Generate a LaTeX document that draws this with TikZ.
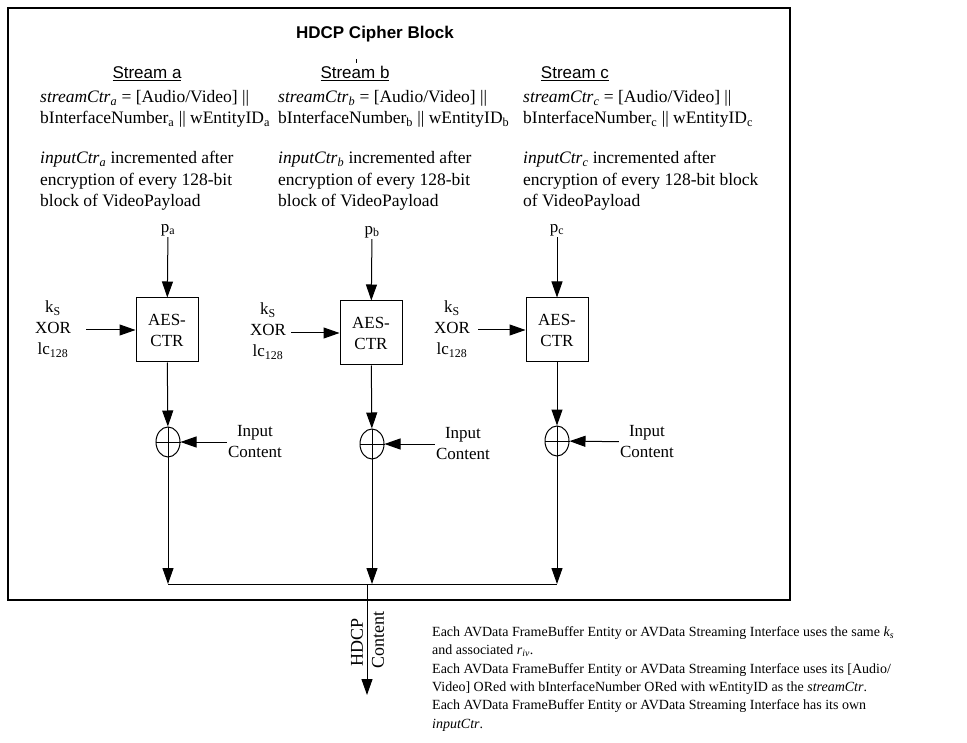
\documentclass[tikz,border=0pt]{standalone}
\usepackage{fontspec}
\setmainfont{Liberation Serif}
\newfontfamily\arialfont{Liberation Sans}
\usetikzlibrary{arrows.meta, calc, positioning, shapes.geometric}

\tikzset{
  body/.style={font=\fontsize{17.5}{21.5}\selectfont, align=left, inner sep=0pt},
  hdr/.style={font=\arialfont\fontsize{17}{19}\selectfont, inner sep=0pt},
  aes/.style={draw, line width=1pt, minimum width=62pt, minimum height=64pt, align=center, font=\fontsize{17}{21}\selectfont},
  xorop/.style={draw, ellipse, line width=1pt, minimum width=24pt, minimum height=30pt, inner sep=0pt},
  lbl/.style={font=\fontsize{17}{21}\selectfont, align=center, inner sep=1pt},
  wire/.style={line width=1pt, -{Triangle[length=16pt,width=11pt]}},
  notes/.style={font=\fontsize{14}{18.3}\selectfont, align=left, inner sep=0pt}
}

\begin{document}
\begin{tikzpicture}[x=1pt, y=-1pt]
  \useasboundingbox (0,0) rectangle (967,743);
  \draw[line width=1.2pt] (8,8) rectangle (790,600);

  \node[font=\arialfont\bfseries\fontsize{17}{19}\selectfont, anchor=base] (title) at (375,39) {HDCP Cipher Block};
  \draw (356,59) -- (356,63);

  \node[hdr, anchor=base] (streamA) at (147,79) {\underline{Stream a}};
  \node[hdr, anchor=base] (streamB) at (355,79) {\underline{Stream b}};
  \node[hdr, anchor=base] (streamC) at (575,79) {\underline{Stream c}};

  \node[body, anchor=base west] (ctrA) at (40,124) {\textit{streamCtr\textsubscript{a}} = [Audio/Video] ||\\bInterfaceNumber\textsubscript{a} || wEntityID\textsubscript{a}};
  \node[body, anchor=base west] (ctrB) at (278,124) {\textit{streamCtr\textsubscript{b}} = [Audio/Video] ||\\bInterfaceNumber\textsubscript{b} || wEntityID\textsubscript{b}};
  \node[body, anchor=base west] (ctrC) at (523,124) {\textit{streamCtr\textsubscript{c}} = [Audio/Video] ||\\bInterfaceNumber\textsubscript{c} || wEntityID\textsubscript{c}};

  \node[body, anchor=base west] (incA) at (40,207) {\textit{inputCtr\textsubscript{a}} incremented after\\encryption of every 128-bit\\block of VideoPayload};
  \node[body, anchor=base west] (incB) at (278,207) {\textit{inputCtr\textsubscript{b}} incremented after\\encryption of every 128-bit\\block of VideoPayload};
  \node[body, anchor=base west] (incC) at (523,207) {\textit{inputCtr\textsubscript{c}} incremented after\\encryption of every 128-bit block\\of VideoPayload};

  \node[aes] (aesA) at (167,330) {AES-\\CTR};
  \node[aes] (aesB) at (371,333) {AES-\\CTR};
  \node[aes] (aesC) at (557,330) {AES-\\CTR};

  \node[lbl] (pA) at (168,230) {p\textsubscript{a}};
  \node[lbl] (pB) at (372,232) {p\textsubscript{b}};
  \node[lbl] (pC) at (557,230) {p\textsubscript{c}};

  \node[lbl] (ksA) at (53,329) {k\textsubscript{S}\\XOR\\lc\textsubscript{128}};
  \node[lbl] (ksB) at (268,331) {k\textsubscript{S}\\XOR\\lc\textsubscript{128}};
  \node[lbl] (ksC) at (452,329) {k\textsubscript{S}\\XOR\\lc\textsubscript{128}};

  \node[xorop] (xorA) at (168,442) {};
  \node[xorop] (xorB) at (372,444) {};
  \node[xorop] (xorC) at (557,441) {};
  \draw (xorA.north) -- (xorA.south) (xorA.west) -- (xorA.east);
  \draw (xorB.north) -- (xorB.south) (xorB.west) -- (xorB.east);
  \draw (xorC.north) -- (xorC.south) (xorC.west) -- (xorC.east);

  \node[lbl] (inA) at (255,442) {Input\\Content};
  \node[lbl] (inB) at (463,444) {Input\\Content};
  \node[lbl] (inC) at (647,442) {Input\\Content};

  \coordinate (bus) at (367,584);
  \coordinate (out) at (367,695);

  \draw[wire] (pA) -- (aesA);
  \draw[wire] (pB) -- (aesB);
  \draw[wire] (pC) -- (aesC);
  \draw[wire, shorten <=14pt] (ksA.east |- aesA.west) -- (aesA);
  \draw[wire, shorten <=4pt] (ksB.east |- aesB.west) -- (aesB);
  \draw[wire, shorten <=7pt] (ksC.east |- aesC.west) -- (aesC);
  \draw[wire] (aesA) -- (xorA);
  \draw[wire] (aesB) -- (xorB);
  \draw[wire] (aesC) -- (xorC);
  \draw[wire] (inA) -- (xorA);
  \draw[wire] (inB) -- (xorB);
  \draw[wire] (inC) -- (xorC);
  \draw[wire] (xorA) -- (xorA |- bus);
  \draw[wire] (xorB) -- (xorB |- bus);
  \draw[wire] (xorC) -- (xorC |- bus);
  \draw[line width=1pt] (xorA |- bus) -- (xorC |- bus);
  \draw[wire] (bus) -- (out);

  \node[lbl, rotate=90, font=\fontsize{18}{21}\selectfont] (hdcp) at (357,642) {HDCP};
  \node[lbl, rotate=90, font=\fontsize{18}{21}\selectfont] (content) at (378,640) {Content};

  \node[notes, anchor=base west] (notes) at (432,728) {Each AVData FrameBuffer Entity or AVData Streaming Interface uses the same \textit{k\textsubscript{s}}\\
    and associated \textit{r\textsubscript{iv}}.\\
    Each AVData FrameBuffer Entity or AVData Streaming Interface uses its [Audio/\\
    Video] ORed with bInterfaceNumber ORed with wEntityID as the \textit{streamCtr}.\\
    Each AVData FrameBuffer Entity or AVData Streaming Interface has its own\\
    \textit{inputCtr}.};
\end{tikzpicture}
\end{document}
